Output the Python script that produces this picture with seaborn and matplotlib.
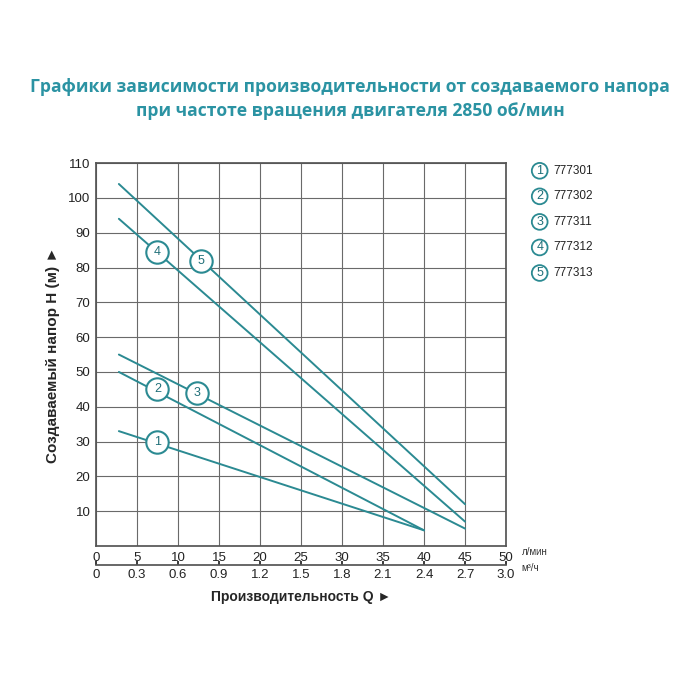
import matplotlib
matplotlib.use("Agg")
import matplotlib.pyplot as plt
import seaborn as sns
import pandas as pd

sns.set_theme(style="white")
plt.rcParams['font.family'] = ['Liberation Sans', 'DejaVu Sans']

models = ["777301", "777302", "777311", "777312", "777313"]
q_start = [2.8, 2.8, 2.8, 2.8, 2.8]
q_end = [40, 40, 45, 45, 45]
h_start = [33, 50, 55, 94, 104]
h_end = [4.5, 4.5, 5, 7, 12]
label_q = [7.5, 7.5, 12.3, 7.5, 12.8]
label_h = [30, 45, 44, 84.5, 82]

TEAL = "#2b8a92"
rows = []
for i, m in enumerate(models):
    rows.append((m, q_start[i], h_start[i]))
    rows.append((m, q_end[i], h_end[i]))
df = pd.DataFrame(rows, columns=["model", "Q", "H"])

fig = plt.figure(figsize=(7, 7), dpi=100)
ax = fig.add_axes([0.137, 0.22, 0.586, 0.547])
sns.lineplot(data=df, x="Q", y="H", units="model", estimator=None,
             color=TEAL, lw=1.4, ax=ax)
for i in range(5):
    ax.scatter([label_q[i]], [label_h[i]], s=260, facecolor="white",
               edgecolor=TEAL, linewidth=1.5, zorder=5)
    ax.text(label_q[i], label_h[i], str(i + 1), ha="center", va="center",
            fontsize=9, color="#1f6f78", zorder=6)

ax.set_xlim(0, 50)
ax.set_ylim(0, 110)
ax.set_xticks(range(0, 51, 5))
ax.set_yticks(range(10, 111, 10))
ax.grid(True, color="#6a6a6a", lw=0.8)
for s in ax.spines.values():
    s.set_color("#555555")
ax.tick_params(axis="both", labelsize=9.5, colors="#222222", length=0, pad=4)
ax.set_xlabel("")
ax.set_ylabel("Создаваемый напор H (м) ►", fontsize=11, fontweight="bold", labelpad=6)

sec = ax.secondary_xaxis(-0.05, functions=(lambda x: x * 0.06, lambda x: x / 0.06))
sec.set_xticks([0, 0.3, 0.6, 0.9, 1.2, 1.5, 1.8, 2.1, 2.4, 2.7, 3.0])
sec.set_xticklabels(["0", "0.3", "0.6", "0.9", "1.2", "1.5", "1.8", "2.1", "2.4", "2.7", "3.0"])
sec.tick_params(labelsize=9.5, colors="#222222", length=3, direction="in", pad=3)
sec.spines["bottom"].set_color("#555555")
sec.set_xlabel("Производительность Q ►", fontsize=10, fontweight="bold", labelpad=6)

fig.text(0.745, 0.212, "л/мин", fontsize=7, color="#333333", va="center")
fig.text(0.745, 0.188, "м³/ч", fontsize=7, color="#333333", va="center")

fig.text(0.5, 0.868, "Графики зависимости производительности от создаваемого напора",
         ha="center", fontsize=12.6, fontweight="bold", color="#2b93a3", family="Open Sans")
fig.text(0.5, 0.834, "при частоте вращения двигателя 2850 об/мин",
         ha="center", fontsize=12.6, fontweight="bold", color="#2b93a3", family="Open Sans")

for i, m in enumerate(models):
    y = 0.756 - i * 0.0365
    fig.text(0.771, y, str(i + 1), ha="center", va="center", fontsize=9, color="#1f6f78",
             bbox=dict(boxstyle="circle,pad=0.15", fc="white", ec=TEAL, lw=1.3))
    fig.text(0.79, y, m, ha="left", va="center", fontsize=8.5, color="#222222")

fig.savefig("out.png", dpi=100, facecolor="white")
